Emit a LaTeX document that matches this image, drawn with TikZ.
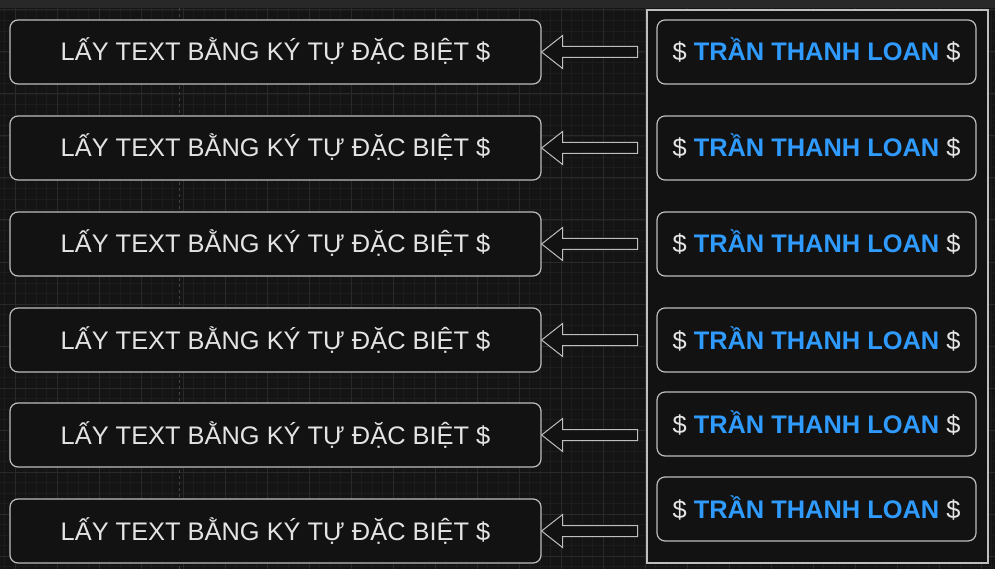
\documentclass[tikz,border=0pt]{standalone}
\usepackage{fontspec}
\setmainfont{Liberation Sans}
\usetikzlibrary{calc}
\definecolor{bgc}{HTML}{141414}
\definecolor{minorc}{HTML}{1C1C1C}
\definecolor{majorc}{HTML}{292929}
\definecolor{topc}{HTML}{282828}
\definecolor{boxfill}{HTML}{121212}
\definecolor{edgec}{HTML}{BEBEBE}
\definecolor{txtc}{HTML}{E4E4E4}
\definecolor{bluec}{HTML}{2F9BFF}
\tikzset{
  leftbox/.style={draw=edgec, fill=boxfill, line width=1.2pt, rounded corners=8pt,
    minimum width=531pt, minimum height=64pt, text=txtc, font=\fontsize{25.4}{28}\selectfont,
    text height=18pt, text depth=0pt, inner sep=0pt},
  rightbox/.style={draw=edgec, fill=boxfill, line width=1.2pt, rounded corners=8pt,
    minimum width=319pt, minimum height=64pt, text=txtc, font=\fontsize{25.4}{28}\selectfont,
    text height=18pt, text depth=0pt, inner sep=0pt},
  holder/.style={draw=edgec, fill=boxfill, line width=1.3pt, minimum width=341pt,
    minimum height=553pt, inner sep=0pt},
  hollowarrow/.style={draw=edgec, fill=boxfill, line width=1pt, line join=miter}
}
\newcommand{\namelabel}{\$ {\color{bluec}\bfseries TRẦN THANH LOAN} \$}
\newcommand{\leftlabel}{LẤY TEXT BẰNG KÝ TỰ ĐẶC BIỆT \$}
\begin{document}
\begin{tikzpicture}[x=1pt,y=-1pt]
\useasboundingbox (0,0) rectangle (995,569);
\fill[bgc] (0,0) rectangle (995,569);
% grid
\foreach \i in {0,...,95} {
  \draw[minorc, line width=0.8pt] ({4.5+10.5*\i},8) -- ({4.5+10.5*\i},569);
}
\foreach \i in {0,...,55} {
  \draw[minorc, line width=0.8pt] (0,{10+10.5*\i}) -- (995,{10+10.5*\i});
}
\foreach \i in {0,...,23} {
  \draw[majorc, line width=1pt] ({15+42*\i},8) -- ({15+42*\i},569);
}
\foreach \i in {0,...,13} {
  \draw[majorc, line width=1pt] (0,{10+42*\i}) -- (995,{10+42*\i});
}
\draw[majorc!70!gray, dashed, line width=1pt] (179,8) -- (179,569);
\fill[topc] (0,0) rectangle (995,8);
% container
\node[holder] (holder) at (817.5,286.5) {};
% left boxes
\foreach \k/\y in {1/52,2/148,3/244,4/340,5/435,6/531} {
  \node[leftbox] (L\k) at (275.5,\y) {\leftlabel};
  \coordinate (T\k) at ($(L\k.east)+(96,0)$);
  \draw[hollowarrow] (L\k.east) -- ++(21,-16.5) -- ++(0,11) -- ($(T\k)+(0,-5.5)$)
     -- ($(T\k)+(0,5.5)$) -- ($(L\k.east)+(21,5.5)$) -- ++(0,11) -- cycle;
}
% right boxes
\foreach \k/\y in {1/52,2/148,3/244,4/340,5/424,6/509} {
  \node[rightbox] (R\k) at (816.5,\y) {\namelabel};
}
\end{tikzpicture}
\end{document}
